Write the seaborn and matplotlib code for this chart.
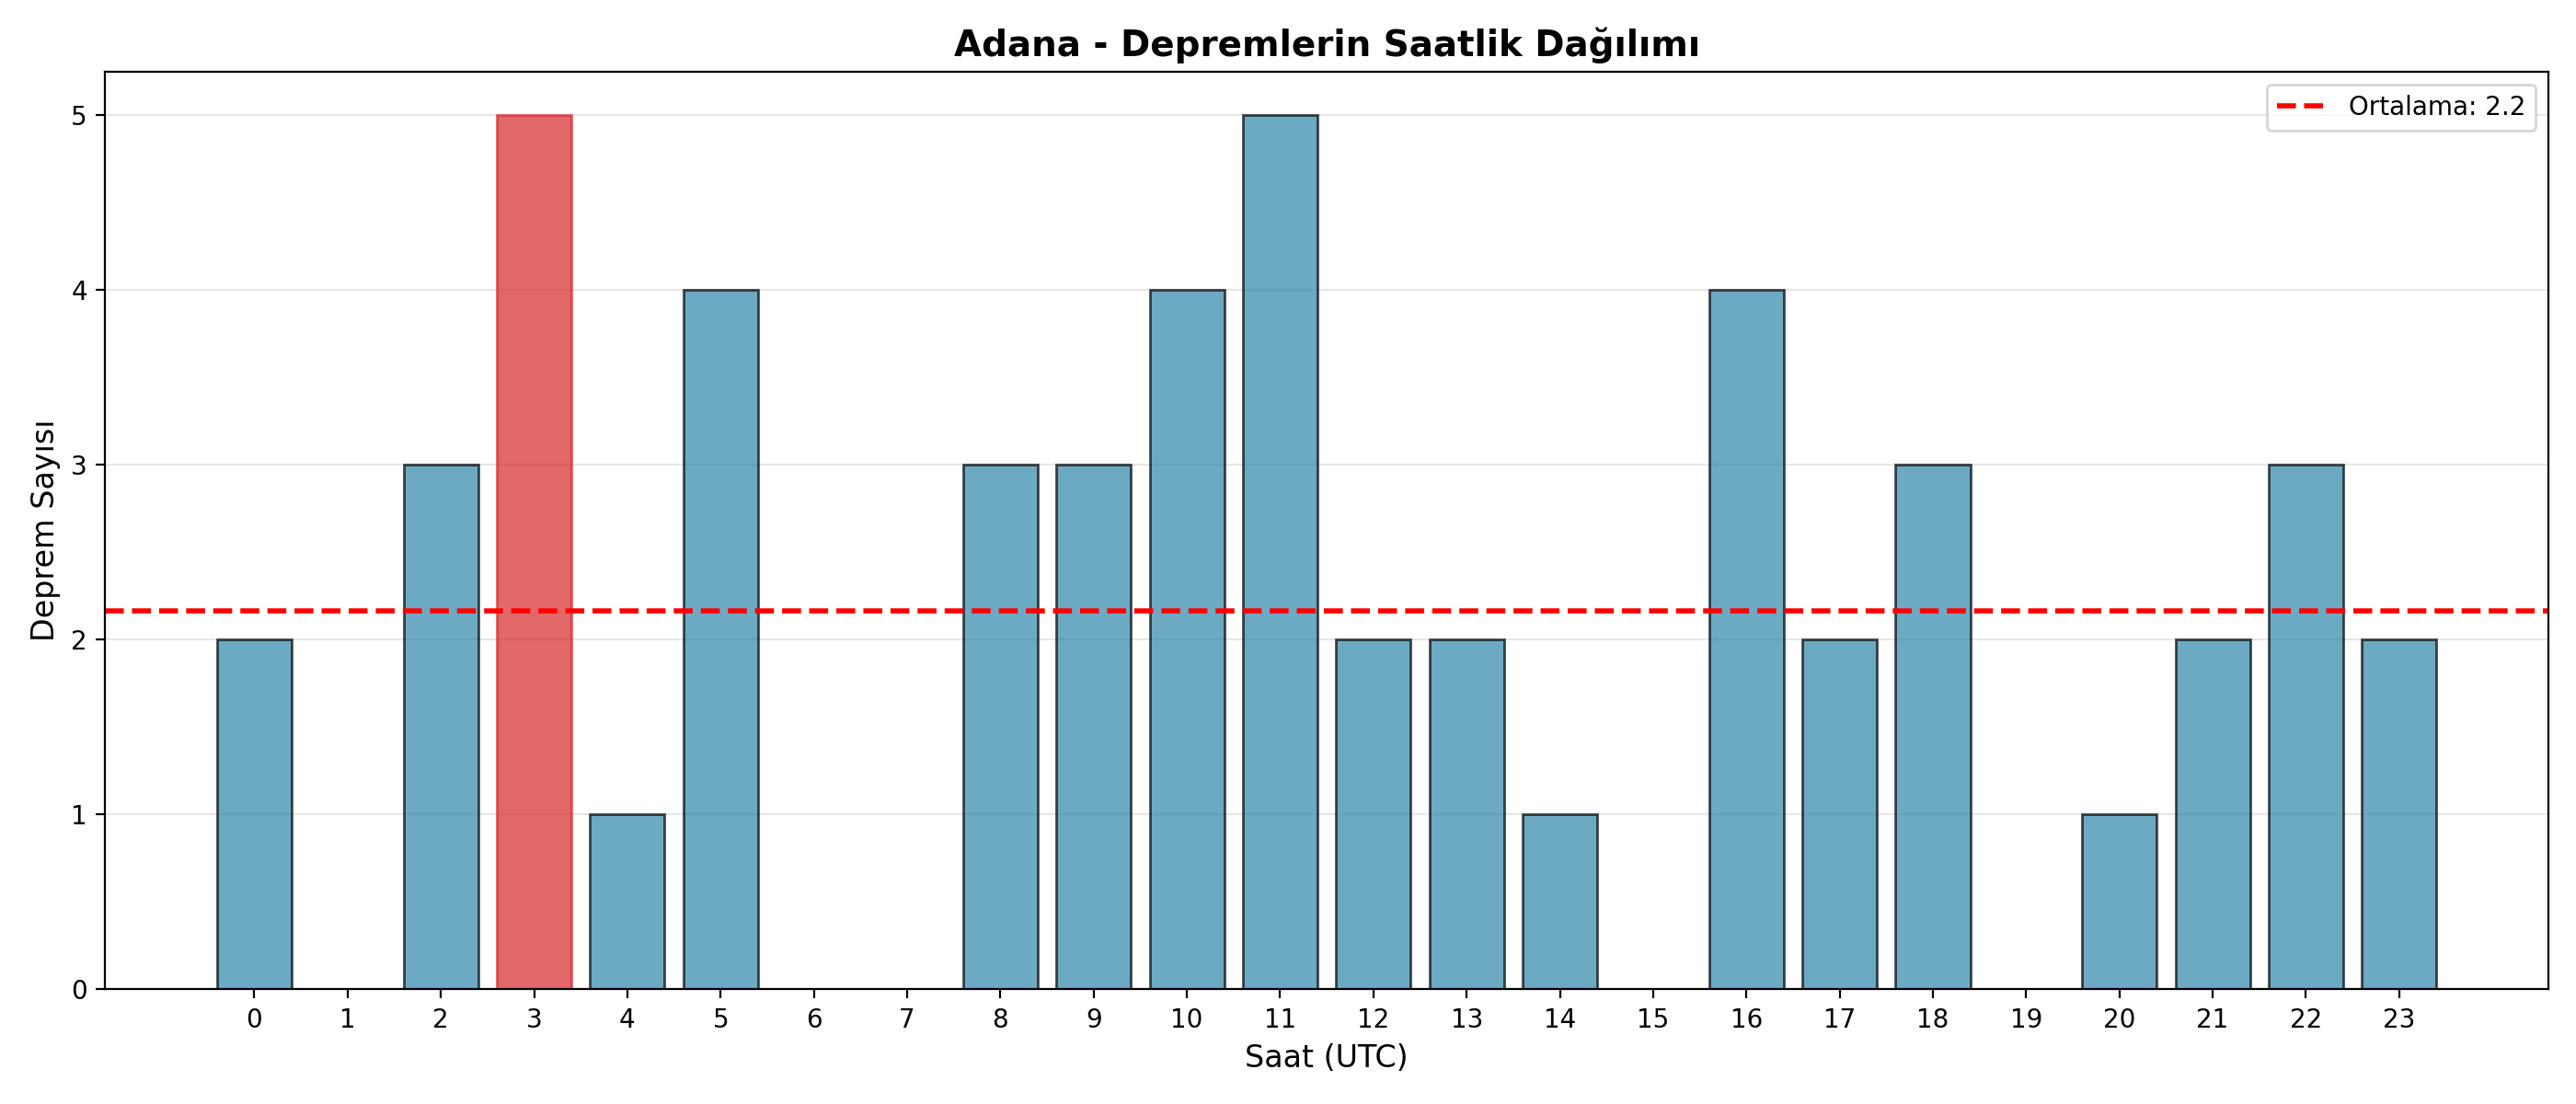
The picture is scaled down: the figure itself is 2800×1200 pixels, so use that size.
import numpy as np

import pandas as pd

import matplotlib
matplotlib.use("Agg")

import matplotlib.pyplot as plt

import seaborn as sns


# ==========================
# DATA
# ==========================

city = "Adana"

hours = list(range(24))

counts = [2, 0, 3, 5, 1, 4, 0, 0, 3, 3, 4, 5,
          2, 2, 1, 0, 4, 2, 3, 0, 1, 2, 3, 2]

data = pd.DataFrame({

    "Saat":
        hours,

    "Adet":
        counts

})

mean_count = np.mean(counts)

peak_hour = int(np.argmax(counts))


# ==========================
# CHART
# ==========================

fig, ax = plt.subplots(
    figsize=(14, 6)
)

sns.barplot(

    data=data,

    x="Saat",

    y="Adet",

    order=hours,

    color="#2E86AB",

    saturation=1,

    edgecolor="black",

    alpha=0.7,

    width=0.8,

    ax=ax

)

ax.patches[peak_hour].set_color("#d62728")

ax.axhline(

    mean_count,

    color="red",

    linestyle="--",

    linewidth=2,

    label=f"Ortalama: {mean_count:.1f}"

)

ax.set_xlim(-1.6, 24.6)

ax.set_xticks(range(len(hours)))

ax.set_xticklabels([str(h) for h in hours])

ax.set_xlabel(
    "Saat (UTC)",
    fontsize=12
)

ax.set_ylabel(
    "Deprem Sayısı",
    fontsize=12
)

ax.set_title(
    f"{city} - Depremlerin Saatlik Dağılımı",
    fontsize=14,
    fontweight="bold"
)

ax.grid(
    axis="y",
    alpha=0.3
)

ax.set_axisbelow(True)

ax.legend(
    loc="upper right"
)

plt.tight_layout()

plt.savefig(
    "out.png",
    dpi=200
)

plt.close()
